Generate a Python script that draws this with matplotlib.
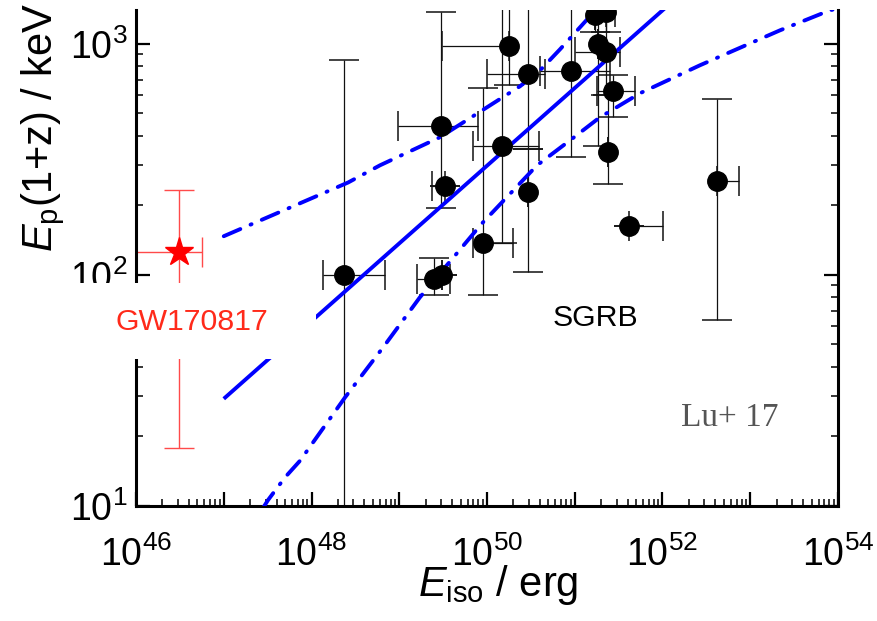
import matplotlib
matplotlib.use("Agg")
import matplotlib.pyplot as plt
from matplotlib.ticker import LogLocator, FuncFormatter, NullFormatter
from matplotlib.patches import Rectangle
import numpy as np

# SGRB sample: Eiso (erg), Ep(1+z) (keV) and the ends of the error bars
eiso = [2.34e48, 2.99e49, 3.32e49, 2.49e49, 3.07e49, 9.0e49, 1.48e50, 1.78e50,
        2.93e50, 2.93e50, 9.06e50, 1.70e51, 2.27e51, 1.84e51, 2.27e51, 2.73e51,
        2.39e51, 4.15e51, 4.18e52]
ep = [99.6, 440, 242, 95.7, 99.6, 138, 360, 975,
      738, 228, 760, 1328, 1368, 995, 919, 623,
      339, 162, 254]
eiso_lo = [1.35e48, 9.7e48, 2.36e49, 1.59e49, 3.07e49, 6.9e49, 6.9e49, 3.07e49,
           1.0e50, 2.93e50, 4.02e50, 1.70e51, 2.27e51, 1.84e51, 1.01e51, 1.79e51,
           2.39e51, 4.15e51, 4.18e52]
eiso_hi = [6.9e48, 7.9e49, 3.32e49, 3.79e49, 3.07e49, 1.98e50, 3.9e50, 1.78e50,
           4.58e50, 2.93e50, 2.52e51, 1.70e51, 2.87e51, 1.84e51, 3.28e51, 4.87e51,
           2.39e51, 1.01e52, 7.45e52]
ep_lo = [5, 194, 242, 82, 99.6, 81.5, 138, 661,
         349, 102.6, 323, 1122, 1122, 360, 598, 481,
         247, 162, 64.1]
ep_hi = [849, 1368, 242, 118, 99.6, 641, 2000, 2000,
         2000, 349, 2000, 2000, 2000, 2000, 2000, 731,
         598, 162, 575]

# GW170817
gw_eiso, gw_ep = 3.1e46, 125
gw_eiso_lo, gw_eiso_hi = 5e45, 5.6e46
gw_ep_lo, gw_ep_hi = 17.9, 232

# best fit and the two bands
fit_e = [1e47, 1.6e52]
fit_ep = [29.1, 1634]
up_e = [1e47, 2.61e48, 6.04e48, 2.91e49, 2.38e50, 4.02e50, 6.79e50, 1.42e51, 2.5e51]
up_ep = [147, 251, 298, 394, 655, 767, 946, 1288, 1660]
lo_e = [2.8e47, 3.19e47, 4.99e47, 7.40e47, 2.41e48, 6.53e48, 1.72e49, 8.77e49,
        3.72e50, 8.83e50, 1.94e51, 5.55e51, 2.67e52, 2.18e53, 8.1e53, 1e54]
lo_ep = [9.8, 10.6, 13.3, 15.7, 29.5, 48.5, 80, 167,
         298, 382, 481, 611, 807, 1143, 1396, 1420]

plt.rcParams['font.family'] = ['Liberation Sans', 'DejaVu Sans']
plt.rcParams['mathtext.fontset'] = 'custom'
plt.rcParams['mathtext.rm'] = 'Liberation Sans'
plt.rcParams['mathtext.it'] = 'Liberation Sans:italic'
plt.rcParams['mathtext.default'] = 'regular'
plt.rcParams['lines.scale_dashes'] = False

fig = plt.figure(figsize=(8.77, 6.21), dpi=100)
ax = fig.add_axes([0.1551, 0.1852, 0.8004, 0.7987])
ax.set_xscale('log')
ax.set_yscale('log')
ax.set_xlim(1e46, 1e54)
ax.set_ylim(10, 1400)

e = np.array(eiso); p = np.array(ep)
xerr = [e - np.array(eiso_lo), np.array(eiso_hi) - e]
yerr = [p - np.array(ep_lo), np.array(ep_hi) - p]
ax.errorbar(e, p, xerr=xerr, yerr=yerr, fmt='none', ecolor='#111111',
            elinewidth=0.9, capsize=11, capthick=1.1, zorder=2)

dashdot = (0, (13, 8, 0.8, 8))
ax.plot(fit_e, fit_ep, color='#0000ff', lw=2.8, solid_capstyle='butt', zorder=3)
ax.plot(up_e, up_ep, color='#0000ff', lw=2.8, linestyle=dashdot,
        dash_capstyle='round', zorder=3)
ax.plot(lo_e, lo_ep, color='#0000ff', lw=2.8, linestyle=dashdot,
        dash_capstyle='round', zorder=3)

ax.plot(e, p, 'o', color='black', ms=14, zorder=4)

ax.errorbar([gw_eiso], [gw_ep],
            xerr=[[gw_eiso - gw_eiso_lo], [gw_eiso_hi - gw_eiso]],
            yerr=[[gw_ep - gw_ep_lo], [gw_ep_hi - gw_ep]],
            fmt='none', ecolor='#ff4a4a', elinewidth=1.0, capsize=11, capthick=1.0, zorder=2)
ax.plot([gw_eiso], [gw_ep], '*', color='#ff0000', ms=21, mec='#ff0000', zorder=4)

# white patch behind the GW170817 label
ax.add_patch(Rectangle((-0.11, 0.296), 0.366, 0.154, transform=ax.transAxes,
                       fc='white', ec='none', clip_on=False, zorder=5))
ax.text(0.080, 0.371, 'GW170817', transform=ax.transAxes, color='#ff2a1a',
        fontsize=21.8, ha='center', va='center', zorder=6)
ax.text(0.654, 0.379, 'SGRB', transform=ax.transAxes, color='black',
        fontsize=21.8, ha='center', va='center', zorder=6)
ax.text(0.846, 0.177, 'Lu+ 17', transform=ax.transAxes, color='#555555',
        fontsize=24, family='Liberation Serif', ha='center', va='center', zorder=6)

# axes labels
ax.text(-0.132, 0.764, r'$\mathit{E}_{\mathrm{p}}$(1+z) / keV', transform=ax.transAxes,
        rotation=90, rotation_mode='anchor', ha='center', va='center', fontsize=30)
ax.text(0.516, -0.159, r'$\mathit{E}_{\mathrm{iso}}$ / erg', transform=ax.transAxes,
        ha='center', va='center', fontsize=30)

# ticks
ax.xaxis.set_major_locator(LogLocator(base=10, numticks=20))
ax.xaxis.set_minor_locator(LogLocator(base=10, subs=np.arange(2, 10), numticks=50))
ax.yaxis.set_major_locator(LogLocator(base=10, numticks=20))
ax.yaxis.set_minor_locator(LogLocator(base=10, subs=np.arange(2, 10), numticks=50))

def xfmt(v, pos):
    k = int(round(np.log10(v)))
    return r'$10^{%d}$' % k if k % 2 == 0 else ''

ax.xaxis.set_major_formatter(FuncFormatter(xfmt))
ax.yaxis.set_major_formatter(FuncFormatter(lambda v, pos: r'$10^{%d}$' % int(round(np.log10(v)))))
ax.xaxis.set_minor_formatter(NullFormatter())
ax.yaxis.set_minor_formatter(NullFormatter())

ax.tick_params(which='major', direction='in', length=10, width=1.6, labelsize=27,
               left=True, right=True, bottom=True, top=False)
ax.tick_params(which='minor', direction='in', length=5, width=1.1,
               left=True, right=True, bottom=True, top=False)
ax.tick_params(axis='x', which='major', pad=22)
ax.tick_params(axis='y', which='major', pad=6)

ax.spines['top'].set_visible(False)
for s in ('left', 'right', 'bottom'):
    ax.spines[s].set_linewidth(2.2)

fig.savefig('out.png', dpi=100)
